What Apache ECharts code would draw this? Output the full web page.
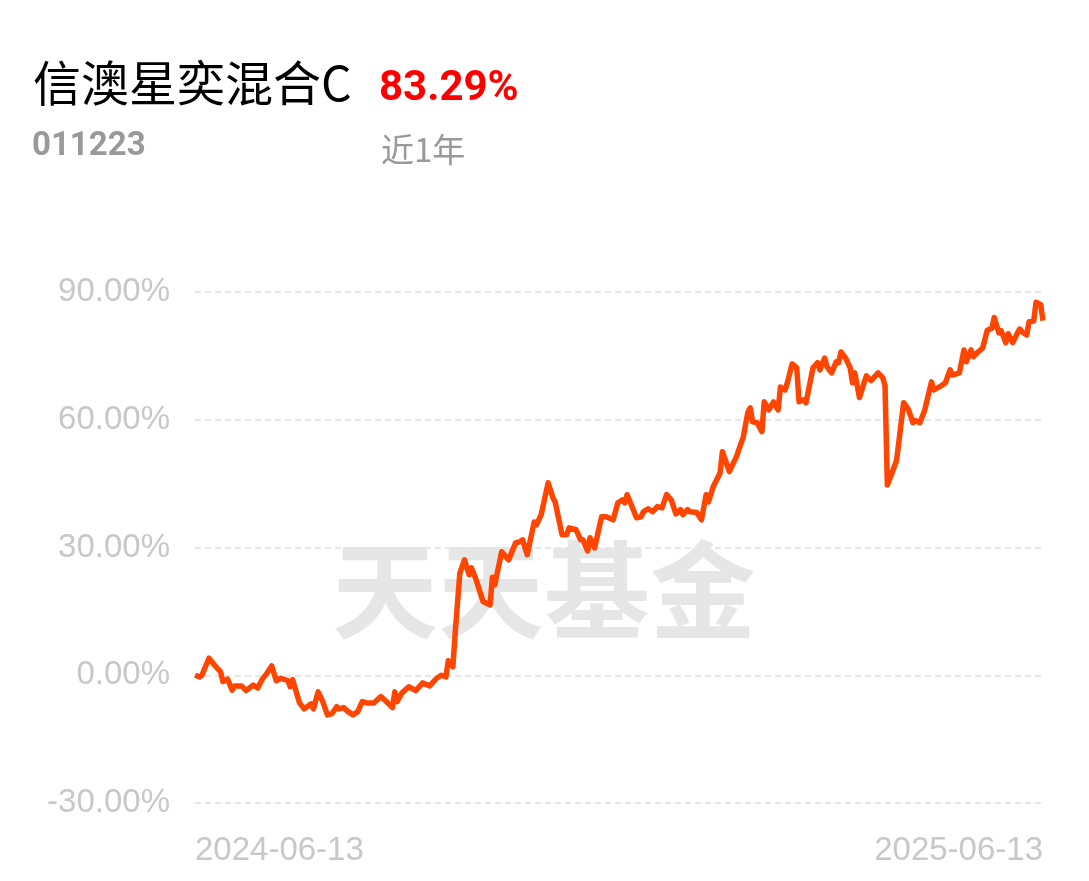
<!DOCTYPE html>
<html>
<head>
<meta charset="utf-8">
<script src="https://cdn.jsdelivr.net/npm/echarts@6/dist/echarts.min.js"></script>
<style>
html,body{margin:0;padding:0;background:#fff;}
#main{width:1089px;height:881px;}
</style>
</head>
<body>
<div id="main"></div>
<script>
// Day offsets from 2024-06-13 and cumulative return (%)
const days = [0,2,3,6,9,11,12,14,16,17,20,22,25,27,29,31,33,35,37,40,41,42,45,47,50,51,53,55,57,59,61,62,64,66,68,70,72,74,77,80,82,85,86,87,89,92,95,98,101,104,106,108,109,111,112,114,116,118,119,121,124,127,128,129,132,135,138,140,141,143,146,147,149,152,154,155,158,160,161,164,166,167,169,170,172,175,177,180,182,184,185,186,189,190,192,193,195,197,199,201,203,205,207,209,210,212,213,216,218,220,221,223,226,227,230,233,236,238,239,240,242,244,245,247,249,251,252,254,255,257,259,260,262,263,266,268,269,271,272,274,276,277,278,280,282,283,284,286,288,289,291,294,296,297,298,300,302,305,307,309,310,312,314,317,318,321,323,325,326,329,331,332,334,335,337,339,341,343,344,346,347,349,350,352,354,355,356,358,359,361,362,364,365];
const values = [0,-0.4,0,4.0,2.0,0.8,-1.5,-0.9,-3.5,-2.5,-2.5,-3.6,-2.3,-3.0,-0.9,0.5,2.2,-1.3,-0.7,-1.3,-2.7,-1.0,-6.5,-7.9,-6.7,-7.9,-3.9,-6.2,-9.3,-9.0,-7.4,-7.9,-7.6,-8.6,-9.3,-8.6,-6.2,-6.5,-6.5,-5.0,-6.0,-7.6,-3.9,-6.2,-4.2,-2.7,-3.6,-1.8,-2.5,-0.7,0,-0.4,3.4,2.0,10.0,24.0,27.1,23.6,25.2,22.4,17.3,16.5,23.0,21.2,29.0,27.1,31.1,31.4,31.8,28.3,36.0,35.3,37.7,45.2,41.7,40.7,33.0,33.0,34.6,34.2,31.8,31.8,29.2,32.3,29.9,37.2,37.2,36.5,40.5,41.2,40.5,42.4,38.4,37.0,37.2,38.4,39.1,38.4,39.6,39.3,42.4,41.2,37.9,38.9,37.7,38.9,38.4,38.2,36.5,42.4,40.7,44.2,47.5,52.5,47.8,51.3,56.0,61.8,62.8,59.5,59.3,57.2,64.2,62.3,64.2,62.3,67.7,67.0,68.7,73.1,72.2,64.2,64.7,64.0,72.2,73.4,71.7,74.5,72.5,71.0,73.6,73.4,75.9,74.5,72.2,68.7,71.0,65.2,68.7,70.3,69.2,71.0,69.9,68.0,44.7,47.5,50.5,64.0,62.5,59.3,59.8,59.3,62.1,68.9,67.0,67.9,68.7,71.7,70.5,71.0,76.4,73.6,76.4,74.8,75.9,76.8,81.0,81.5,84.0,80.4,80.9,78.1,80.2,78.1,80.4,81.3,80.6,79.9,83.0,83.2,87.6,87.0,83.29];
const xTickLabels = ['2024-06-13','2025-06-13'];
const yTicks = [-30,0,30,60,90];
const fundName = '信澳星奕混合C';
const fundCode = '011223';
const periodReturn = '83.29%';
const periodLabel = '近1年';

const chart = echarts.init(document.getElementById('main'));
chart.setOption({
  animation:false,
  backgroundColor:'#fff',
  title:[
    {text:fundName,left:28,top:54,textStyle:{fontSize:48,fontWeight:'normal',color:'#000',fontFamily:'Noto Sans CJK SC'}},
    {text:periodReturn,left:374,top:63,textStyle:{fontSize:42,fontWeight:'bold',color:'#ff0000',fontFamily:'Roboto'}},
    {text:fundCode,left:27,top:125,textStyle:{fontSize:33,fontWeight:'bold',color:'#999',fontFamily:'Roboto'}},
    {text:periodLabel,left:376,top:128,textStyle:{fontSize:33,fontWeight:'normal',color:'#999',fontFamily:'Noto Sans CJK SC'}}
  ],
  graphic:[{
    type:'text', z:-10, zlevel:0, left:332, top:537,
    style:{text:'天天基金',fontSize:106,fontWeight:'bold',fill:'#e6e6e6',fontFamily:'Noto Sans CJK SC'}
  }],
  grid:{left:195,right:46,top:292,bottom:78},
  xAxis:{
    type:'value',min:0,max:365,interval:365,
    axisLine:{show:false},axisTick:{show:false},splitLine:{show:false},
    axisLabel:{
      margin:31,fontSize:33,color:'#c8c8c8',fontFamily:'Liberation Sans',
      alignMinLabel:'left',alignMaxLabel:'right',
      formatter:function(v){return v===0?xTickLabels[0]:(v===365?xTickLabels[1]:'');}
    }
  },
  yAxis:{
    type:'value',min:yTicks[0],max:yTicks[yTicks.length-1],interval:30,
    axisLine:{show:false},axisTick:{show:false},
    axisLabel:{margin:25,fontSize:33,color:'#c8c8c8',fontFamily:'Liberation Sans',formatter:function(v){return v.toFixed(2)+'%';}},
    splitLine:{show:true,lineStyle:{color:'#e6e6e6',width:2,type:[6,4]}}
  },
  series:[{
    type:'line',z:5,showSymbol:false,smooth:false,
    data:days.map((d,i)=>[d,values[i]]),
    lineStyle:{color:'#ff4500',width:5.5,join:'round'}
  }]
});
</script>
</body>
</html>
